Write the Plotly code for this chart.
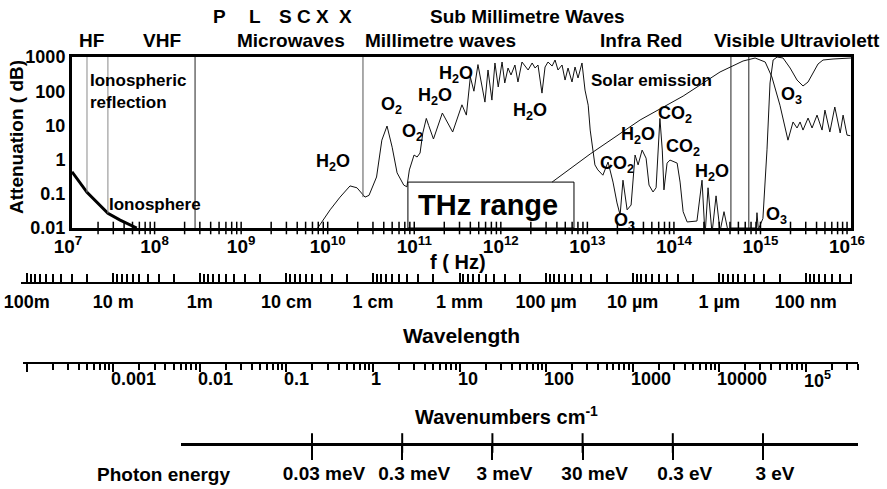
import numpy as np
import plotly.graph_objects as go

W, H = 887, 489

# ---------------- data ----------------
ionosphere_f = [1e7, 1.49e7, 2.6e7, 3.6e7, 5.6e7]
ionosphere_db = [0.44, 0.11, 0.027, 0.017, 0.01]

atten_f = [
    6.9e9, 9.6e9, 1.25e10, 1.63e10, 1.96e10, 2.43e10, 2.7e10, 3.3e10, 3.8e10, 4.36e10,
    5.0e10, 5.7e10, 6.8e10, 7.4e10, 7.9e10, 8.5e10, 8.95e10, 9.7e10, 1.05e11, 1.13e11,
    1.24e11, 1.32e11, 1.5e11, 1.9e11, 2.5e11, 3.2e11, 3.6e11, 4.0e11, 4.4e11, 4.9e11,
    5.2e11, 5.9e11, 6.4e11, 7.1e11, 7.7e11, 8.4e11, 9.3e11, 1.0e12, 1.09e12, 1.18e12,
    1.31e12, 1.42e12, 1.58e12, 1.71e12, 1.86e12, 2.07e12, 2.24e12, 2.42e12, 2.69e12, 2.92e12,
    3.16e12, 3.52e12, 3.81e12, 4.12e12, 4.59e12, 4.97e12, 5.38e12, 5.98e12, 6.48e12, 7.02e12,
    7.8e12, 8.45e12, 9.2e12, 9.7e12, 1.02e13, 1.1e13, 1.19e13, 1.36e13, 1.56e13, 1.78e13,
    1.98e13, 2.15e13, 2.32e13, 2.59e13, 2.88e13, 3.2e13, 3.47e13, 3.86e13, 4.29e13, 4.64e13,
    5.16e13, 5.6e13, 6.2e13, 6.6e13, 6.9e13, 7.5e13, 8.1e13, 9.8e13, 1.06e14, 1.15e14,
    1.28e14, 1.66e14, 1.9e14, 2.06e14, 2.23e14, 2.48e14, 2.76e14, 3.07e14, 3.41e14, 3.8e14,
    4.0e14, 8.0e14, 8.2e14, 8.5e14, 8.9e14, 9.6e14, 1.07e15, 1.16e15, 1.26e15, 1.4e15,
    1.64e15, 1.98e15, 2.38e15, 2.79e15, 3.19e15, 3.64e15, 4.16e15, 4.75e15, 6.2e15, 1e16,
]
atten_db = [
    0.01, 0.034, 0.08, 0.17, 0.15, 0.08, 0.09, 0.31, 3.7, 9.6,
    2.3, 0.41, 0.18, 0.16, 0.5, 0.97, 1.36, 1.19, 1.56, 6.0,
    16, 10, 4.0, 23, 6.4, 40, 20, 260, 100, 600,
    260, 48, 417, 55, 668, 133, 714, 174, 476, 298,
    583, 186, 714, 545, 417, 668, 476, 583, 88, 510,
    714, 545, 817, 417, 583, 212, 476, 186, 510, 243,
    668, 108, 39, 7.3, 2.7, 0.70, 0.50, 0.35, 0.85, 0.22,
    0.054, 0.024, 0.25, 0.034, 0.047, 1.36, 0.70, 1.9, 1.1, 0.18,
    0.113, 0.15, 16, 1.9, 0.13, 0.79, 0.97, 0.79, 0.22, 0.03,
    0.015, 0.016, 0.25, 0.006, 0.15, 0.007, 0.087, 0.008, 0.03, 0.008,
    0.01, 0.01, 0.028, 0.009, 0.012, 0.019, 1.93, 174, 817, 1000,
    935, 476, 212, 142, 186, 340, 624, 817, 874, 935,
]

solar_f = [
    3.52e12, 9.7e12, 3.66e13, 1.15e14, 3.07e14, 5.66e14, 7.8e14, 1.02e15, 1.22e15, 1.51e15,
    1.87e15, 2.14e15, 2.38e15, 2.58e15, 2.79e15, 3.19e15, 3.55e15, 4.05e15, 4.63e15, 5.0e15,
    5.7e15, 6.5e15, 7.5e15, 8.1e15, 9.0e15, 9.8e15,
]
solar_db = [
    0.22, 1.46, 14.4, 72, 365, 764, 935, 714, 260, 39,
    3.7, 12.6, 8.4, 12.6, 7.3, 16.4, 8.4, 20, 7.3, 28,
    6.4, 34.5, 6.0, 20, 5.2, 5.0,
]

divider_f = [1.49e7, 2.6e7, 2.64e8, 2.3e10, 4.1e14, 6.6e14]
divider_bottom_db = [0.11, 0.027, 0.01, 0.08, 0.01, 0.01]
divider_color = ["#8a8a8a", "#8a8a8a", "#222222", "#555555", "#222222", "#222222"]

thz_box_f = [7.6e10, 6.3e12]
thz_box_db = [0.01, 0.22]

freq_tick_vals = [10.0 ** n for n in range(7, 17)]
freq_tick_text = [f"10<sup>{n}</sup>" for n in range(7, 17)]
atten_tick_vals = [0.01, 0.1, 1, 10, 100, 1000]
atten_tick_text = ["0.01", "0.1", "1", "10", "100", "1000"]

wavelength_tick_m = [100, 10, 1, 0.1, 0.01, 1e-3, 1e-4, 1e-5, 1e-6, 1e-7]
wavelength_tick_text = ["100m", "10 m", "1m", "10 cm", "1 cm", "1 mm",
                        "100 µm", "10 µm", "1 µm", "100 nm"]

wavenumber_tick_vals = [1e-3, 1e-2, 1e-1, 1, 10, 100, 1000, 1e4, 1e5]
wavenumber_tick_text = ["0.001", "0.01", "0.1", "1", "10", "100", "1000", "10000",
                        "10<sup>5</sup>"]

photon_tick_ev = [3e-5, 3e-4, 3e-3, 3e-2, 0.3, 3]
photon_tick_text = ["0.03 meV", "0.3 meV", "3 meV", "30 meV", "0.3 eV", "3 eV"]

band_row1_text = ["P", "L", "S", "C", "X", "X", "Sub Millimetre Waves"]
band_row1_f = [5.1e8, 1.3e9, 2.9e9, 4.8e9, 7.9e9, 1.43e10, 1.85e12]
band_row2_text = ["HF", "VHF", "Microwaves", "Millimetre waves", "Infra Red",
                  "Visible Ultraviolett"]
band_row2_f = [1.66e7, 1.1e8, 3.4e9, 1.79e11, 3.75e13, 2.38e15]

mol_text = ["H<sub>2</sub>O", "O<sub>2</sub>", "O<sub>2</sub>", "H<sub>2</sub>O",
            "H<sub>2</sub>O", "H<sub>2</sub>O", "CO<sub>2</sub>", "H<sub>2</sub>O",
            "CO<sub>2</sub>", "CO<sub>2</sub>", "H<sub>2</sub>O", "O<sub>3</sub>",
            "O<sub>3</sub>", "O<sub>3</sub>"]
mol_f = [1.04e10, 4.9e10, 8.5e10, 1.56e11, 2.73e11, 1.95e12, 1.98e13, 3.46e13,
         9.3e13, 1.15e14, 2.48e14, 2.39e13, 2.03e15, 1.36e15]
mol_db = [0.80, 39, 6.0, 68, 298, 26, 0.70, 5.2, 21.5, 2.2, 0.43, 0.015, 77, 0.024]

# ---------------- layout geometry (pixels) ----------------
PX_F7, PX_F16 = 72, 851
PX_TOP, PX_BOT = 57, 228
PPD = (PX_F16 - PX_F7) / 9.0
LOG_C = np.log10(3e8)          # wavelength [m] = c / f
LOG_C_CM = np.log10(3e10)      # wavenumber [1/cm] = f / c


def lf(px):
    return 7 + (px - PX_F7) / PPD


def xd(a, b):
    return [a / W, b / W]


def py(y):
    return 1 - y / H


BOLD = dict(family="Liberation Sans", color="black", weight="bold")


def font(size):
    return dict(BOLD, size=size)


fig = go.Figure()

fig.add_trace(go.Scatter(x=ionosphere_f, y=ionosphere_db, mode="lines",
                         line=dict(color="black", width=3), hoverinfo="skip"))
fig.add_trace(go.Scatter(x=atten_f, y=atten_db, mode="lines",
                         line=dict(color="#111111", width=1), hoverinfo="skip"))
fig.add_trace(go.Scatter(x=solar_f, y=solar_db, mode="lines",
                         line=dict(color="#111111", width=1), hoverinfo="skip"))
for f, b, c in zip(divider_f, divider_bottom_db, divider_color):
    fig.add_trace(go.Scatter(x=[f, f], y=[1000, b], mode="lines",
                             line=dict(color=c, width=1), hoverinfo="skip"))

tick_f = [k * 10.0 ** n for n in range(7, 16) for k in range(2, 10)]
fig.add_trace(go.Scatter(x=tick_f, y=[0.01] * len(tick_f), mode="markers",
                         marker=dict(symbol="line-ns", size=9,
                                     line=dict(width=1.5, color="black")),
                         cliponaxis=False, hoverinfo="skip"))

fig.add_shape(type="rect", xref="x", yref="y", x0=thz_box_f[0], x1=thz_box_f[1],
              y0=thz_box_db[0], y1=thz_box_db[1], line=dict(color="black", width=1),
              fillcolor="white", layer="below")

fig.add_trace(go.Scatter(x=[1], y=[5], xaxis="x2", yaxis="y2", mode="markers",
                         marker=dict(opacity=0), hoverinfo="skip"))
fig.add_trace(go.Scatter(x=[1], y=[5], xaxis="x3", yaxis="y3", mode="markers",
                         marker=dict(opacity=0), hoverinfo="skip"))
fig.add_trace(go.Scatter(x=photon_tick_ev, y=[0] * len(photon_tick_ev), xaxis="x4",
                         yaxis="y4", mode="markers",
                         marker=dict(symbol="line-ns", size=14,
                                     line=dict(width=2, color="black")),
                         cliponaxis=False, hoverinfo="skip"))

wl_minor = [k * 10.0 ** n for n in range(-8, 3) for k in range(2, 10)]
wn_minor = [k * 10.0 ** n for n in range(-5, 6) for k in range(2, 10)]
wn_major = [10.0 ** n for n in range(-5, 6)]

E_PX0, E_PX1 = 312, 763
E_PPD = (E_PX1 - E_PX0) / 5.0
e_lo = np.log10(3e-5) - (E_PX0 - 181) / E_PPD
e_hi = np.log10(3) + (858 - E_PX1) / E_PPD

fig.update_layout(
    template="none",
    width=W, height=H, margin=dict(l=0, r=0, t=0, b=0, pad=0, autoexpand=False),
    paper_bgcolor="white", plot_bgcolor="white", showlegend=False,
    font=font(18),
    xaxis=dict(type="log", range=[7, 16], domain=xd(PX_F7, PX_F16), anchor="y",
               automargin=False,
               showline=True, linewidth=3, linecolor="black", mirror=True,
               showgrid=False, zeroline=False, ticks="",
               tickmode="array", tickvals=freq_tick_vals, ticktext=freq_tick_text,
               tickfont=font(19), ticklabelshift=-4, ticklabelstandoff=-1),
    yaxis=dict(type="log", range=[-2, 3], domain=[py(PX_BOT), py(PX_TOP)], anchor="x",
               automargin=False,
               showline=True, linewidth=3, linecolor="black", mirror=True,
               showgrid=False, zeroline=False, ticks="",
               tickmode="array", tickvals=atten_tick_vals, ticktext=atten_tick_text,
               tickfont=font(18)),
    xaxis2=dict(type="log", domain=xd(21, 852), anchor="y2", automargin=False,
                range=[LOG_C - lf(21), LOG_C - lf(852)],
                showline=True, linewidth=2, linecolor="black", showgrid=False,
                zeroline=False, ticks="inside", ticklen=9, tickwidth=1.5,
                tickcolor="black", tickmode="array", tickvals=wavelength_tick_m,
                ticktext=wavelength_tick_text, tickfont=font(18),
                ticklabelstandoff=2,
                minor=dict(tickmode="array", tickvals=wl_minor, ticks="inside",
                           ticklen=8, tickwidth=1.5, tickcolor="black", showgrid=False)),
    yaxis2=dict(domain=[py(282), py(262)], anchor="x2", range=[0, 1], visible=False,
                automargin=False),
    xaxis3=dict(type="log", domain=xd(23, 858), anchor="y3", automargin=False,
                range=[lf(23) - LOG_C_CM, lf(858) - LOG_C_CM],
                showline=True, linewidth=2, linecolor="black", showgrid=False,
                zeroline=False, ticks="outside", ticklen=8, tickwidth=1.5,
                tickcolor="black", tickmode="array", tickvals=wn_major,
                showticklabels=False,
                minor=dict(tickmode="array", tickvals=wn_minor, ticks="outside",
                           ticklen=6, tickwidth=1.5, tickcolor="black", showgrid=False)),
    yaxis3=dict(domain=[py(362), py(345)], anchor="x3", range=[0, 1], visible=False,
                automargin=False),
    xaxis4=dict(type="log", domain=xd(181, 858), anchor="y4", range=[e_lo, e_hi],
                automargin=False,
                showline=True, linewidth=2.5, linecolor="black", showgrid=False,
                zeroline=False, ticks="outside", ticklen=14, tickwidth=2,
                tickcolor="black", tickmode="array", tickvals=photon_tick_ev,
                ticktext=photon_tick_text, tickfont=font(19), ticklabelshift=12,
                ticklabelstandoff=-3),
    yaxis4=dict(domain=[py(443), py(425)], anchor="x4", range=[0, 1], visible=False,
                automargin=False),
)

ann = []
for t, f in zip(band_row1_text, band_row1_f):
    ann.append(dict(text=t, x=np.log10(f), xref="x", y=py(17), yref="paper",
                    showarrow=False, font=font(19), xanchor="center", yanchor="middle"))
for t, f in zip(band_row2_text, band_row2_f):
    ann.append(dict(text=t, x=np.log10(f), xref="x", y=py(40), yref="paper",
                    showarrow=False, font=font(19), xanchor="center", yanchor="middle"))
for t, f, a in zip(mol_text, mol_f, mol_db):
    ann.append(dict(text=t, x=np.log10(f), xref="x", y=np.log10(a), yref="y",
                    showarrow=False, font=font(18), xanchor="center", yanchor="middle"))
ann.append(dict(text="Ionospheric<br>reflection", x=np.log10(1.53e7), xref="x",
                y=np.log10(98), yref="y", showarrow=False, font=font(17),
                xanchor="left", yanchor="middle", align="left"))
ann.append(dict(text="Ionosphere", x=np.log10(9.1e7), xref="x", y=np.log10(0.05),
                yref="y", showarrow=False, font=font(17), xanchor="center",
                yanchor="middle"))
ann.append(dict(text="Solar emission", x=np.log10(4.9e13), xref="x", y=np.log10(199),
                yref="y", showarrow=False, font=font(17), xanchor="center",
                yanchor="middle"))
ann.append(dict(text="THz range", x=np.log10(6.4e11), xref="x", y=np.log10(0.047),
                yref="y", showarrow=False, font=font(29), xanchor="center",
                yanchor="middle"))
ann.append(dict(text="Attenuation ( dB)", x=16 / W, xref="paper", y=py(137),
                yref="paper", showarrow=False, font=font(19), textangle=-90,
                xanchor="center", yanchor="middle"))
ann.append(dict(text="f ( Hz)", x=np.log10(2.9e11), xref="x", y=py(262), yref="paper",
                showarrow=False, font=font(20), xanchor="center", yanchor="middle"))
ann.append(dict(text="Wavelength", x=462 / W, xref="paper", y=py(335), yref="paper",
                showarrow=False, font=font(21), xanchor="center", yanchor="middle"))
ann.append(dict(text="Wavenumbers cm<sup>-1</sup>", x=507 / W, xref="paper", y=py(415),
                yref="paper", showarrow=False, font=font(20), xanchor="center",
                yanchor="middle"))
ann.append(dict(text="Photon energy", x=163 / W, xref="paper", y=py(474), yref="paper",
                showarrow=False, font=font(19), xanchor="center", yanchor="middle"))
for t, v in zip(wavenumber_tick_text, wavenumber_tick_vals):
    ann.append(dict(text=t, x=np.log10(v), xref="x3", y=py(379), yref="paper",
                    showarrow=False, font=font(18), xanchor="left", xshift=-4,
                    yanchor="middle"))
fig.update_layout(annotations=ann)

fig.write_html("out.html")
